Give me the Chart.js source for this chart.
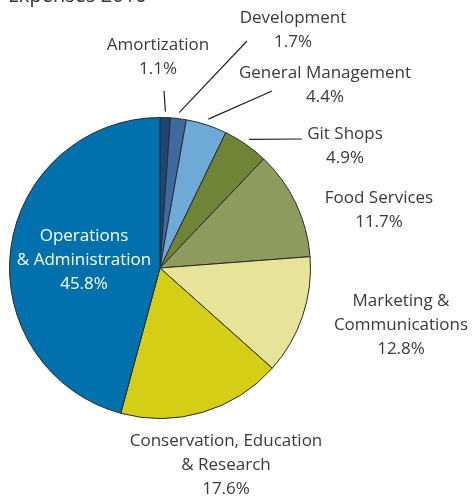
<!DOCTYPE html>
<html>
<head>
<meta charset="utf-8">
<script src="https://cdn.jsdelivr.net/npm/chart.js@4"></script>
<style>
  html, body { margin: 0; padding: 0; background: #fff; }
  #wrap { width: 475px; height: 500px; position: relative; }
</style>
</head>
<body>
<div id="wrap"><canvas id="c" width="475" height="500"></canvas></div>
<script>
const categories = [
  "Amortization",
  "Development",
  "General Management",
  "Git Shops",
  "Food Services",
  "Marketing & Communications",
  "Conservation, Education & Research",
  "Operations & Administration"
];
const values = [1.1, 1.7, 4.4, 4.9, 11.7, 12.8, 17.6, 45.8];
const labelLines = [
  ["Amortization", "1.1%"],
  ["Development", "1.7%"],
  ["General Management", "4.4%"],
  ["Git Shops", "4.9%"],
  ["Food Services", "11.7%"],
  ["Marketing &", "Communications", "12.8%"],
  ["Conservation, Education", "& Research", "17.6%"],
  ["Operations", "& Administration", "45.8%"]
];
const colors = ["#1b4675", "#3d6aa1", "#6fa9d6", "#6f8436", "#8e9b5f", "#e7e398", "#d4cf16", "#0071ad"];
const titleText = "Expenses 2016";

// label placement (text block centre, first line y) and leader line end
const labelPos = [
  {x: 158, y: 45, inside: false, leader: [164, 91]},
  {x: 293, y: 18, inside: false, leader: [247, 41]},
  {x: 325, y: 73, inside: false, leader: [272, 91]},
  {x: 345, y: 134, inside: false, leader: [302, 139]},
  {x: 379, y: 198, inside: false, leader: null},
  {x: 401, y: 301, inside: false, leader: null},
  {x: 226, y: 441, inside: false, leader: null},
  {x: 84, y: 236, inside: true, leader: null}
];

const FONT = '17px "Open Sans", "Noto Sans", sans-serif';

const labelPlugin = {
  id: 'pieLabels',
  afterDraw(chart) {
    const ctx = chart.ctx;
    const meta = chart.getDatasetMeta(0);
    ctx.save();
    // title (cut off at top)
    ctx.font = '20px "Open Sans", "Noto Sans", sans-serif';
    ctx.fillStyle = '#333';
    ctx.textAlign = 'left';
    ctx.textBaseline = 'alphabetic';
    ctx.fillText(titleText, 8, 2);

    meta.data.forEach((arc, i) => {
      const p = labelPos[i];
      const lines = labelLines[i];
      if (p.leader) {
        const mid = (arc.startAngle + arc.endAngle) / 2;
        const r = arc.outerRadius + 6;
        const sx = arc.x + Math.cos(mid) * r;
        const sy = arc.y + Math.sin(mid) * r;
        ctx.beginPath();
        ctx.moveTo(sx, sy);
        ctx.lineTo(p.leader[0], p.leader[1]);
        ctx.strokeStyle = '#222';
        ctx.lineWidth = 1.2;
        ctx.stroke();
      }
      ctx.font = FONT;
      ctx.fillStyle = p.inside ? '#ffffff' : '#3a3a3a';
      ctx.textAlign = 'center';
      ctx.textBaseline = 'middle';
      lines.forEach((t, k) => {
        ctx.fillText(t, p.x, p.y + k * 24);
      });
    });
    ctx.restore();
  }
};

new Chart(document.getElementById('c'), {
  type: 'pie',
  data: {
    labels: categories,
    datasets: [{
      data: values,
      backgroundColor: colors,
      borderColor: '#2a2a2a',
      borderWidth: 1
    }]
  },
  options: {
    responsive: false,
    animation: false,
    layout: { padding: { left: 9, top: 117, right: 164, bottom: 81 } },
    plugins: {
      legend: { display: false },
      title: { display: false },
      tooltip: { enabled: false }
    }
  },
  plugins: [labelPlugin]
});
</script>
</body>
</html>
